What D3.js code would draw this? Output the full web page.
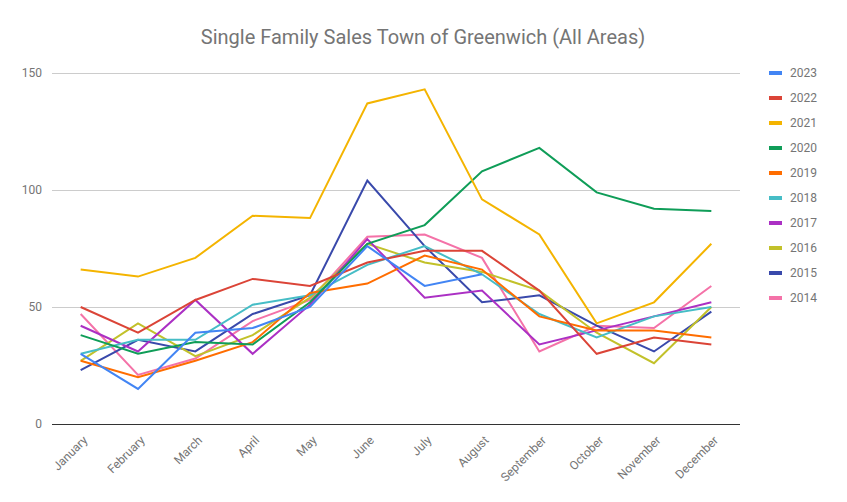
<!DOCTYPE html>
<html>
<head>
<meta charset="utf-8">
<script src="https://cdn.jsdelivr.net/npm/d3@7"></script>
<style>
  body { margin: 0; background: #fff; }
  text { font-family: Roboto, "Noto Sans", sans-serif; }
</style>
</head>
<body>
<div id="chart"></div>
<script>
// months + tick values
const months = ["January", "February", "March", "April", "May", "June",
                "July", "August", "September", "October", "November", "December"];
const yTicks = [0, 50, 100, 150];

// sales per year (2023 stops at August)
const sales2023 = [30, 15, 39, 41, 50, 76, 59, 64];
const sales2022 = [50, 39, 53, 62, 59, 69, 74, 74, 57, 30, 37, 34];
const sales2021 = [66, 63, 71, 89, 88, 137, 143, 96, 81, 43, 52, 77];
const sales2020 = [38, 30, 35, 34, 52, 77, 85, 108, 118, 99, 92, 91];
const sales2019 = [27, 20, 27, 35, 56, 60, 72, 66, 46, 40, 40, 37];
const sales2018 = [30, 36, 36, 51, 55, 68, 76, 64, 47, 37, 46, 50];
const sales2017 = [42, 31, 53, 30, 51, 79, 54, 57, 34, 40, 46, 52];
const sales2016 = [27, 43, 29, 38, 54, 77, 69, 65, 57, 39, 26, 50];
const sales2015 = [23, 36, 31, 47, 55, 104, 76, 52, 55, 42, 31, 48];
const sales2014 = [47, 21, 28, 44, 53, 80, 81, 71, 31, 42, 41, 59];

const series = [
  {name: "2023", values: sales2023, color: "#4285f4"},
  {name: "2022", values: sales2022, color: "#db4437"},
  {name: "2021", values: sales2021, color: "#f4b400"},
  {name: "2020", values: sales2020, color: "#0f9d58"},
  {name: "2019", values: sales2019, color: "#ff6d00"},
  {name: "2018", values: sales2018, color: "#46bdc6"},
  {name: "2017", values: sales2017, color: "#ab30c4"},
  {name: "2016", values: sales2016, color: "#c2c12a"},
  {name: "2015", values: sales2015, color: "#3949ab"},
  {name: "2014", values: sales2014, color: "#f472a8"}
];

const width = 847, height = 502;
const margin = {top: 73, right: 107, bottom: 78, left: 52};

const svg = d3.select("#chart")
    .append("svg")
    .attr("width", width)
    .attr("height", height);

const x = d3.scalePoint()
    .domain(months)
    .range([margin.left, width - margin.right])
    .padding(0.5);

const y = d3.scaleLinear()
    .domain([0, 150])
    .range([height - margin.bottom, margin.top]);

// title
svg.append("text")
    .attr("x", 423)
    .attr("y", 44)
    .attr("text-anchor", "middle")
    .attr("fill", "#757575")
    .style("font-size", "20px")
    .text("Single Family Sales Town of Greenwich (All Areas)");

// gridlines + y labels
const yAxis = svg.append("g")
    .attr("transform", `translate(${margin.left},0)`)
    .call(d3.axisLeft(y).tickValues(yTicks).tickSize(-(width - margin.left - margin.right)).tickPadding(10));
yAxis.select(".domain").remove();
yAxis.selectAll(".tick line")
    .attr("stroke", d => d === 0 ? "#333" : "#ccc");
yAxis.selectAll(".tick text")
    .attr("fill", "#757575")
    .style("font-size", "12px");

// x labels, rotated
const xAxis = svg.append("g")
    .attr("transform", `translate(0,${height - margin.bottom})`)
    .call(d3.axisBottom(x).tickSize(0).tickPadding(0));
xAxis.select(".domain").remove();
xAxis.selectAll(".tick text")
    .attr("fill", "#757575")
    .style("font-size", "12px")
    .attr("text-anchor", "end")
    .attr("dy", 0)
    .attr("transform", "translate(7,17) rotate(-45)");

const line = d3.line()
    .x((d, i) => x(months[i]))
    .y(d => y(d));

svg.append("g")
    .selectAll("path")
    .data(series.slice().reverse())
    .enter().append("path")
    .attr("d", d => line(d.values))
    .attr("fill", "none")
    .attr("stroke", d => d.color)
    .attr("stroke-width", 2);

// legend
const legend = svg.append("g")
    .selectAll("g")
    .data(series)
    .enter().append("g")
    .attr("transform", (d, i) => `translate(769,${73 + i * 25})`);

legend.append("rect")
    .attr("x", 0)
    .attr("y", -2)
    .attr("width", 13)
    .attr("height", 4)
    .attr("fill", d => d.color);

legend.append("text")
    .attr("x", 21)
    .attr("y", 0)
    .attr("dy", "0.35em")
    .attr("fill", "#757575")
    .style("font-size", "12px")
    .text(d => d.name);
</script>
</body>
</html>
